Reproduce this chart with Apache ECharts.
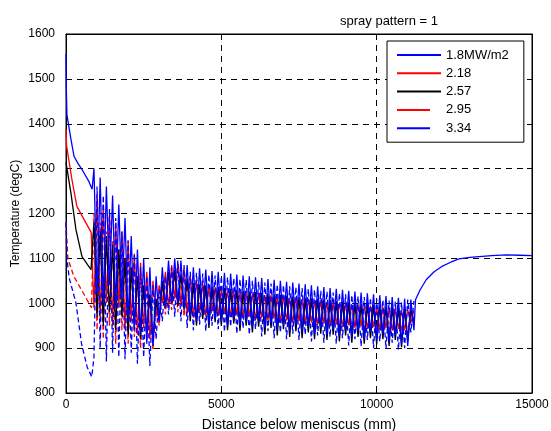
<!DOCTYPE html>
<html><head><meta charset="utf-8">
<script src="https://cdn.jsdelivr.net/npm/echarts@6/dist/echarts.min.js"></script>
<style>html,body{margin:0;padding:0;background:#fff}#c{width:551px;height:431px}</style>
</head><body><div id="c"></div>
<script>
const titleText = 'spray pattern = 1';
const xName = 'Distance below meniscus (mm)';
const yName = 'Temperature (degC)';
const seriesNames = ['1.8MW/m2', '2.18', '2.57', '2.95', '3.34'];
const xTicks = [0, 5000, 10000, 15000];
const yTicks = [800, 900, 1000, 1100, 1200, 1300, 1400, 1500, 1600];

// initial smooth segments (distance mm, temperature degC)
const headX_A = [0, 10, 30, 160, 260, 400, 515, 740, 840];
const headY_A = [1555, 1480, 1420, 1365, 1327, 1310, 1298, 1271, 1254];
const headX_B = [0, 20, 190, 350, 580, 810];
const headY_B = [1388, 1350, 1276, 1216, 1187, 1158];
const headX_C = [0, 160, 320, 515, 805];
const headY_C = [1314, 1245, 1164, 1104, 1075];
const headX_D = [0, 60, 250, 580, 820];
const headY_D = [1180, 1100, 1060, 1020, 990];
const headX_E = [0, 30, 100, 320, 500, 680, 830];
const headY_E = [1180, 1100, 1057, 1001, 910, 858, 836];

// oscillating region distances
const oscX = [900,1000,1100,1200,1300,1400,1500,1600,1700,1800,1900,
2000,2100,2200,2300,2400,2500,2600,2700,2800,2900,
3000,3100,3200,3300,3400,3500,3600,3700,3800,3900,
4000,4100,4200,4300,4400,4500,4600,4700,4800,4900,
5000,5100,5200,5300,5400,5500,5600,5700,5800,5900,
6000,6100,6200,6300,6400,6500,6600,6700,6800,6900,
7000,7100,7200,7300,7400,7500,7600,7700,7800,7900,
8000,8100,8200,8300,8400,8500,8600,8700,8800,8900,
9000,9100,9200,9300,9400,9500,9600,9700,9800,9900,
10000,10100,10200,10300,10400,10500,10600,10700,10800,10900,
11000,11100,11200];

const oscY_A = [1300,1020,1280,1000,1260,1040,1240,990,1220,1010,1190,
960,1150,940,1120,930,1100,910,1080,905,1060,
960,1080,990,1095,1000,1100,1000,1095,990,1085,
970,1080,960,1078,975,1075,955,1072,965,1070,
960,1068,950,1066,965,1064,950,1062,958,1060,
948,1058,960,1056,945,1054,955,1052,942,1050,
952,1048,938,1046,950,1044,935,1042,948,1040,
932,1038,945,1036,930,1034,942,1032,928,1030,
940,1028,925,1026,938,1024,922,1022,935,1020,
918,1018,932,1016,915,1014,928,1012,910,1010,
905,1008,940];

const oscY_B = [990,1240,960,1220,1000,1200,950,1180,990,1160,940,
1140,960,1110,930,1090,945,1070,920,1050,970,
1040,1000,1070,990,1085,1010,1090,995,1080,975,
1060,968,1052,978,1045,970,1040,982,1036,972,
1031,976,1028,969,1027,974,1024,967,1025,971,
1021,963,1022,968,1018,961,1019,966,1015,958,
1016,962,1012,955,1013,960,1009,953,1010,957,
1006,951,1007,955,1003,949,1004,953,1000,947,
1001,951,997,945,998,949,994,943,995,947,
991,941,992,945,988,939,989,943,985,940,
986,955,984];

const oscY_C = [1180,970,1160,950,1150,980,1130,940,1120,970,1100,
930,1080,950,1060,920,1040,935,1020,910,1010,
960,1050,990,1070,1000,1075,995,1065,985,1055,
960,1045,950,1042,965,1040,945,1038,958,1036,
950,1034,940,1032,955,1030,938,1028,950,1026,
935,1025,948,1023,930,1022,945,1020,928,1018,
942,1017,925,1015,938,1014,922,1012,935,1011,
920,1010,932,1008,918,1007,930,1005,915,1004,
928,1002,912,1001,925,999,910,998,922,996,
908,995,920,993,905,992,918,990,902,988,
915,986,960];

const oscY_D = [1200,940,1180,920,1160,950,1140,910,1120,940,1100,
910,1080,925,1060,900,1040,915,1020,895,1010,
950,1040,975,1060,985,1070,980,1060,970,1050,
962,1040,958,1036,966,1033,960,1030,968,1028,
962,1026,966,1025,960,1023,964,1021,958,1020,
963,1018,957,1017,961,1015,955,1014,959,1012,
953,1011,957,1009,951,1008,955,1006,949,1005,
953,1003,947,1002,951,1000,945,999,949,997,
943,996,947,994,941,993,945,991,939,990,
943,988,937,987,941,985,935,984,939,982,
933,981,950];

const oscY_E = [880,1260,900,1240,870,1210,890,1190,880,1160,875,
1140,890,1110,865,1080,880,1060,860,1040,920,
1030,960,1060,975,1080,970,1095,960,1085,945,
1070,940,1068,952,1066,938,1064,950,1062,942,
1060,936,1058,948,1056,932,1054,944,1052,930,
1050,942,1048,926,1046,938,1044,922,1042,935,
1040,920,1038,932,1036,918,1034,930,1032,915,
1030,928,1028,912,1026,925,1024,910,1022,922,
1020,906,1018,920,1016,904,1014,918,1012,900,
1010,915,1008,898,1006,912,1004,896,1002,900,
1008,935,1005];

// recovery after the sprays
const tailX_A = [11250, 11400, 11600, 11850, 12100, 12400, 12650, 13000, 13300, 13700, 14170, 14600, 15000];
const tailY_A = [1008, 1030, 1053, 1070, 1082, 1092, 1099, 1102, 1104, 1106, 1108, 1107, 1106];

function pairs(xs, ys) { return xs.map((x, i) => [x, ys[i]]); }

const dataA = pairs(headX_A, headY_A).concat(pairs(oscX, oscY_A), pairs(tailX_A, tailY_A));
const dataB = pairs(headX_B, headY_B).concat(pairs(oscX, oscY_B));
const dataC = pairs(headX_C, headY_C).concat(pairs(oscX, oscY_C));
const dataD = pairs(headX_D, headY_D).concat(pairs(oscX, oscY_D));
const dataE = pairs(headX_E, headY_E).concat(pairs(oscX, oscY_E));

const FONT = 'Liberation Sans, Arial, sans-serif';
const colors = ['#0000ff', '#ff0000', '#000000', '#ff0000', '#0000ff'];
const dashes = ['solid', 'solid', 'solid', [5, 3], [5, 3]];
const datas = [dataA, dataB, dataC, dataD, dataE];
// drawing order: red curves underneath, blue on top
const drawOrder = [1, 3, 2, 0, 4];

const solidIcon = 'path://M0,0H44V2H0Z';
const dashIcon = 'path://M0,0H33V2H0ZM44,1L44,1';
const legendItems = seriesNames.map((n, i) => ({ name: n, icon: dashes[i] === 'solid' ? solidIcon : dashIcon }));

const gridDash = { color: '#000', type: [6, 5], width: 1 };
const plainNum = v => String(v);

const chart = echarts.init(document.getElementById('c'), null, { renderer: 'canvas' });
chart.setOption({
  animation: false,
  backgroundColor: '#fff',
  textStyle: { fontFamily: FONT },
  title: {
    text: titleText, left: 335, top: 10,
    textStyle: { fontSize: 13, fontWeight: 'normal', color: '#000', fontFamily: FONT }
  },
  grid: { left: 66, right: 19, top: 34, bottom: 38, containLabel: false, outerBoundsMode: 'none',
          show: true, borderColor: '#000', borderWidth: 1, backgroundColor: 'transparent' },
  legend: {
    data: legendItems,
    orient: 'vertical',
    left: 387, top: 41,
    padding: [7, 15, 7, 10],
    itemWidth: 44, itemHeight: 2, itemGap: 4.3,
    backgroundColor: '#fff',
    borderColor: '#000', borderWidth: 1,
    itemStyle: { borderWidth: 0 },
    textStyle: { fontSize: 13, color: '#000', lineHeight: 14, fontFamily: FONT }
  },
  xAxis: [{
    type: 'value', min: xTicks[0], max: xTicks[xTicks.length - 1], interval: 5000,
    position: 'bottom',
    name: xName, nameLocation: 'middle', nameGap: 25, nameMoveOverlap: false,
    nameTextStyle: { fontSize: 14, color: '#000', fontFamily: FONT },
    axisLine: { show: true, onZero: false, lineStyle: { color: '#000', width: 1 } },
    axisTick: { show: true, inside: true, length: 5, lineStyle: { color: '#000' } },
    axisLabel: { color: '#000', fontSize: 12, margin: 6, fontFamily: FONT, formatter: plainNum },
    splitLine: { show: true, lineStyle: gridDash }
  }, {
    type: 'value', min: xTicks[0], max: xTicks[xTicks.length - 1], interval: 5000,
    position: 'top',
    axisLine: { show: true, onZero: false, lineStyle: { color: '#000', width: 1 } },
    axisTick: { show: true, inside: true, length: 5, lineStyle: { color: '#000' } },
    axisLabel: { show: false }, splitLine: { show: false }
  }],
  yAxis: [{
    type: 'value', min: yTicks[0], max: yTicks[yTicks.length - 1], interval: 100,
    position: 'left',
    name: yName, nameLocation: 'middle', nameGap: 44, nameMoveOverlap: false,
    nameTextStyle: { fontSize: 12, color: '#000', fontFamily: FONT },
    axisLine: { show: true, onZero: false, lineStyle: { color: '#000', width: 1 } },
    axisTick: { show: true, inside: true, length: 5, lineStyle: { color: '#000' } },
    axisLabel: { color: '#000', fontSize: 12, margin: 11, fontFamily: FONT, formatter: plainNum },
    splitLine: { show: true, lineStyle: gridDash }
  }, {
    type: 'value', min: yTicks[0], max: yTicks[yTicks.length - 1], interval: 100,
    position: 'right',
    axisLine: { show: true, onZero: false, lineStyle: { color: '#000', width: 1 } },
    axisTick: { show: true, inside: true, length: 5, lineStyle: { color: '#000' } },
    axisLabel: { show: false }, splitLine: { show: false }
  }],
  series: drawOrder.map(i => ({
    name: seriesNames[i], type: 'line', xAxisIndex: 0, yAxisIndex: 0,
    data: datas[i], showSymbol: false, symbol: 'none',
    color: colors[i],
    lineStyle: { color: colors[i], width: 1.3, type: dashes[i] },
    emphasis: { disabled: true }
  }))
});
</script>
</body></html>
